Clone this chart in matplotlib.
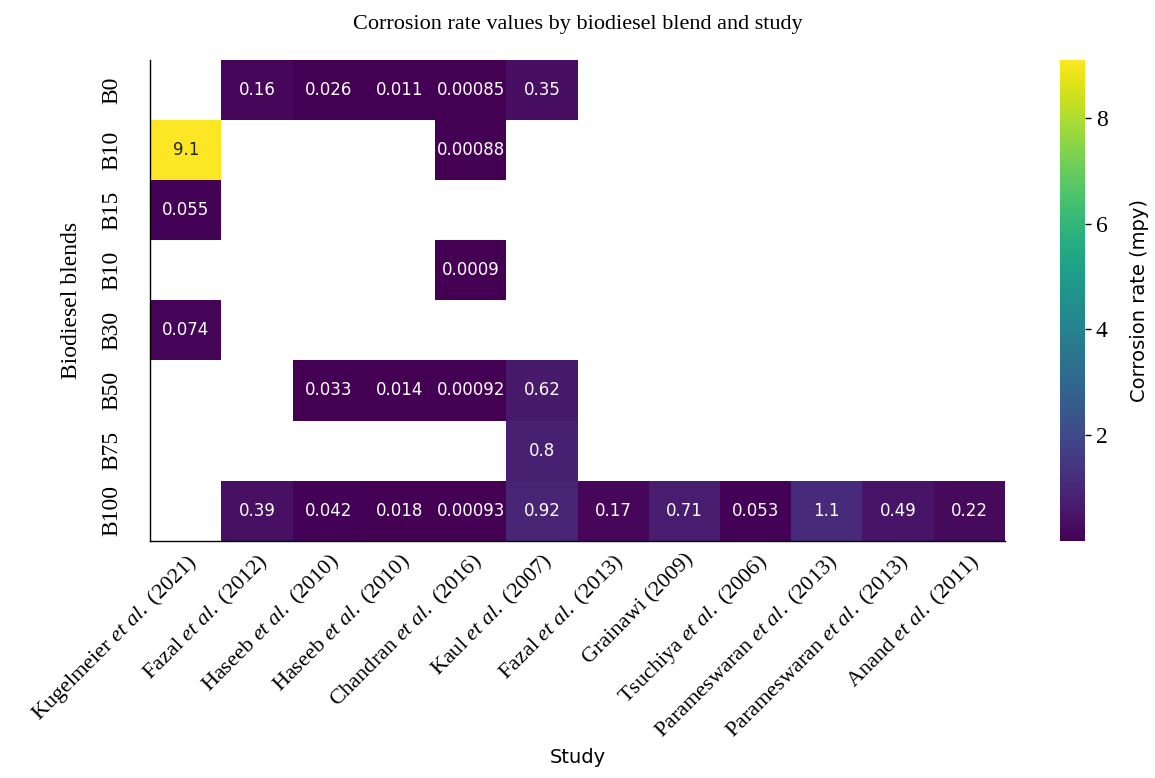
import matplotlib
matplotlib.use("Agg")
import matplotlib.pyplot as plt
import numpy as np
import pandas as pd
import seaborn as sns

serif = "Liberation Serif"
plt.rcParams["mathtext.fontset"] = "custom"
plt.rcParams["mathtext.rm"] = serif
plt.rcParams["mathtext.it"] = serif + ":italic"

studies = [
    "Kugelmeier $\\it{et\\ al.}$ (2021)",
    "Fazal $\\it{et\\ al.}$ (2012)",
    "Haseeb $\\it{et\\ al.}$ (2010)",
    "Haseeb $\\it{et\\ al.}$ (2010)",
    "Chandran $\\it{et\\ al.}$ (2016)",
    "Kaul $\\it{et\\ al.}$ (2007)",
    "Fazal $\\it{et\\ al.}$ (2013)",
    "Grainawi (2009)",
    "Tsuchiya $\\it{et\\ al.}$ (2006)",
    "Parameswaran $\\it{et\\ al.}$ (2013)",
    "Parameswaran $\\it{et\\ al.}$ (2013)",
    "Anand $\\it{et\\ al.}$ (2011)",
]
blends = ["B0", "B10", "B15", "B10", "B30", "B50", "B75", "B100"]

n = np.nan
b0 = [n, 0.16, 0.026, 0.011, 0.00085, 0.35, n, n, n, n, n, n]
b10 = [9.1, n, n, n, 0.00088, n, n, n, n, n, n, n]
b15 = [0.055, n, n, n, n, n, n, n, n, n, n, n]
b10b = [n, n, n, n, 0.0009, n, n, n, n, n, n, n]
b30 = [0.074, n, n, n, n, n, n, n, n, n, n, n]
b50 = [n, n, 0.033, 0.014, 0.00092, 0.62, n, n, n, n, n, n]
b75 = [n, n, n, n, n, 0.8, n, n, n, n, n, n]
b100 = [n, 0.39, 0.042, 0.018, 0.00093, 0.92, 0.17, 0.71, 0.053, 1.1, 0.49, 0.22]

values = np.array([b0, b10, b15, b10b, b30, b50, b75, b100])
df = pd.DataFrame(values, index=range(len(blends)), columns=range(len(studies)))

fig = plt.figure(figsize=(11.55, 7.78), dpi=100)
ax = fig.add_axes([0.130, 0.305, 0.740, 0.618])
cax = fig.add_axes([0.918, 0.305, 0.021, 0.618])

sns.heatmap(
    df, ax=ax, cbar_ax=cax, cmap="viridis",
    annot=True, fmt=".2g", annot_kws={"size": 12},
    cbar_kws={"label": "Corrosion rate (mpy)"},
)

ax.set_xticklabels(studies, rotation=45, ha="right", rotation_mode="anchor",
                   fontfamily=serif, fontsize=16)
ax.set_yticklabels(blends, rotation=90, va="center", fontfamily=serif, fontsize=17)
ax.tick_params(axis="x", length=0, pad=7)
ax.tick_params(axis="y", length=0, pad=20)
ax.set_xlabel("Study", fontsize=14, labelpad=4)
ax.set_ylabel("Biodiesel blends", fontfamily=serif, fontsize=17, labelpad=14)
ax.set_title("Corrosion rate values by biodiesel blend and study",
             fontfamily=serif, fontsize=16, pad=22)

for side in ["left", "bottom"]:
    ax.spines[side].set_visible(True)
    ax.spines[side].set_color("black")
    ax.spines[side].set_linewidth(1.0)

cbar = ax.collections[0].colorbar
cbar.outline.set_visible(False)
cbar.set_ticks([2, 4, 6, 8])
cbar.ax.tick_params(length=4, width=1, pad=4)
for t in cbar.ax.get_yticklabels():
    t.set_fontfamily(serif)
    t.set_fontsize(17)
cbar.ax.yaxis.label.set_fontsize(14)
cbar.ax.yaxis.labelpad = 16

plt.savefig("out.png", dpi=100)
